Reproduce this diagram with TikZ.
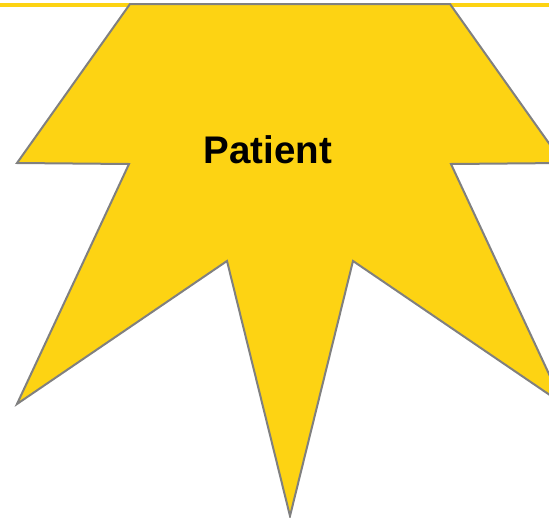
\documentclass[tikz,border=0pt]{standalone}
\usepackage{fontspec}
\setmainfont{Liberation Sans}
\definecolor{staryellow}{HTML}{FDD313}
\definecolor{stargray}{HTML}{808080}
\begin{document}
\begin{tikzpicture}[x=1pt,y=-1pt,
  starshape/.style={fill=staryellow,draw=stargray,line width=2pt,line join=miter},
  toprule/.style={draw=staryellow,line width=3.5pt},
  label/.style={font=\bfseries\fontsize{38.5}{42}\selectfont,text=black,inner sep=0pt}]
\useasboundingbox (0,0) rectangle (549,517);
\clip (0,0) rectangle (549,517);
\coordinate (la) at (0,5);
\coordinate (lb) at (130,5);
\coordinate (ra) at (450,5);
\coordinate (rb) at (549,5);
\draw[toprule] (la) -- (lb);
\draw[toprule] (ra) -- (rb);
\draw[starshape] (130,4) -- (450,4) -- (563,163) -- (451,164) -- (563,404)
  -- (353,261) -- (290,516) -- (227,261) -- (17,404) -- (129,164) -- (17,163) -- cycle;
\node[label] (patient) at (268,150) {Patient};
\end{tikzpicture}
\end{document}
